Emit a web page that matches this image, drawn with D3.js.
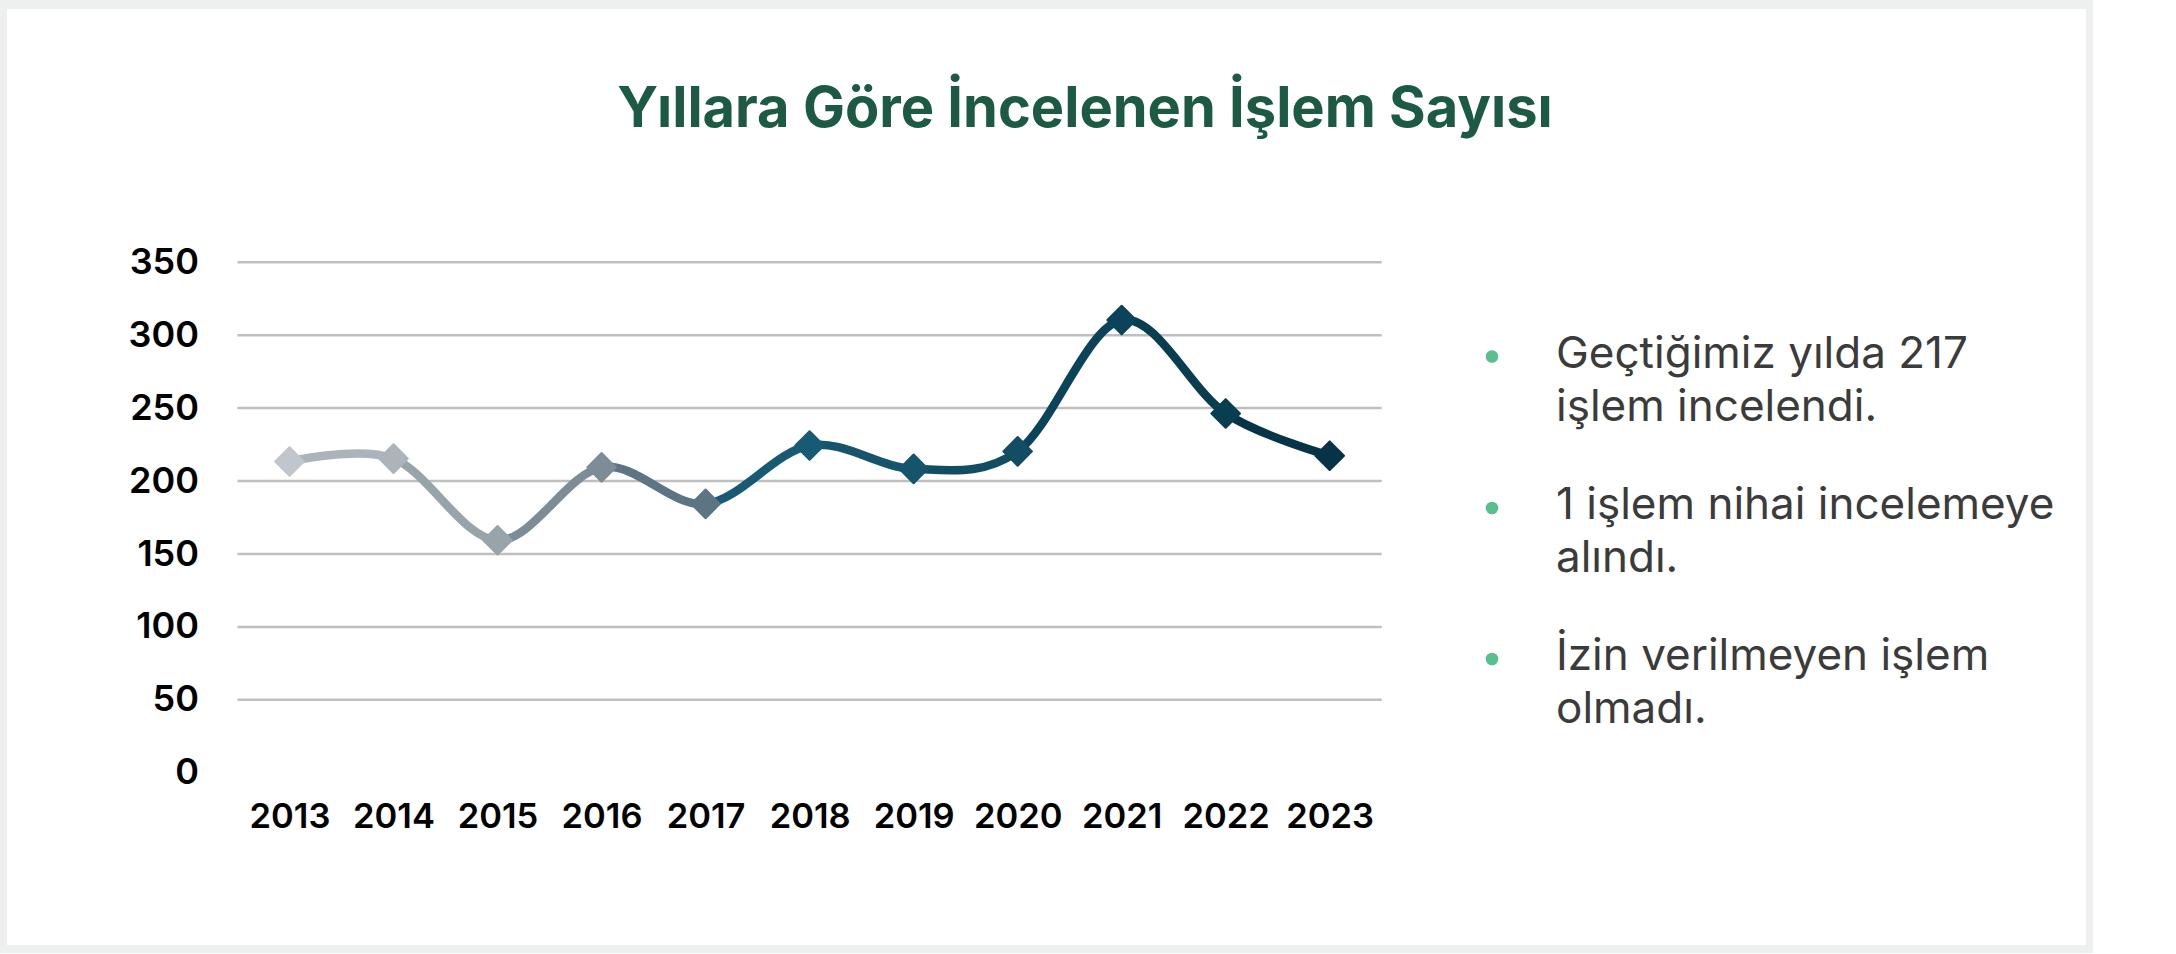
<!DOCTYPE html>
<html>
<head>
<meta charset="utf-8">
<script src="https://cdn.jsdelivr.net/npm/d3@7/dist/d3.min.js"></script>
<style>
  html, body { margin: 0; padding: 0; background: #ffffff; }
  svg { display: block; }
</style>
</head>
<body>
<svg id="chart" width="2176" height="954"></svg>
<script>
// ---- data ----
const years = ["2013","2014","2015","2016","2017","2018","2019","2020","2021","2022","2023"];
const counts = [213, 215, 159, 209, 184, 224, 208, 220, 310, 246, 217];
const yTicks = [0, 50, 100, 150, 200, 250, 300, 350];
const pointColors = ["#c0c6cb","#aab4ba","#97a5ab","#7c8d98","#5d7484","#175a73","#15546b","#124d63","#0b435a","#093e51","#063446"];
const title = "Yıllara Göre İncelenen İşlem Sayısı";
const notes = [
  ["Geçtiğimiz yılda 217", "işlem incelendi."],
  ["1 işlem nihai incelemeye", "alındı."],
  ["İzin verilmeyen işlem", "olmadı."]
];

const svg = d3.select("#chart");

// frame
svg.append("rect").attr("x", 0).attr("y", 0).attr("width", 2093).attr("height", 953).attr("fill", "#eef0ef");
svg.append("rect").attr("x", 7).attr("y", 9).attr("width", 2079).attr("height", 936).attr("fill", "#ffffff");

// title
svg.append("text")
  .attr("x", 1085).attr("y", 126.5)
  .attr("text-anchor", "middle")
  .attr("font-family", "Inter, 'Noto Sans', sans-serif")
  .attr("font-weight", 700)
  .attr("font-size", 56)
  .attr("fill", "#1c5a43")
  .text(title);

// scales
const x = d3.scalePoint().domain(years).range([237.5, 1381.7]).padding(0.5);
const y = d3.scaleLinear().domain([0, 350]).range([772.3, 261.7]);

// gridlines
const grid = svg.append("g").attr("transform", "translate(237.5,0)")
  .call(d3.axisLeft(y).tickValues(yTicks.filter(v => v > 0)).tickSize(-(1381.7 - 237.5)).tickFormat(""));
grid.select(".domain").remove();
grid.selectAll(".tick line").attr("stroke", "#bfbfbf").attr("stroke-width", 2.5);

// y axis labels
const yAxis = svg.append("g").attr("transform", "translate(199,0)")
  .call(d3.axisLeft(y).tickValues(yTicks).tickSize(0).tickPadding(0));
yAxis.select(".domain").remove();
yAxis.selectAll(".tick text")
  .attr("font-family", "Inter, 'Noto Sans', sans-serif")
  .attr("font-weight", 600)
  .attr("font-size", 36)
  .attr("fill", "#000000");

// x axis labels
const xAxis = svg.append("g").attr("transform", "translate(0,790)")
  .call(d3.axisBottom(x).tickSize(0).tickPadding(0));
xAxis.select(".domain").remove();
xAxis.selectAll(".tick text")
  .attr("dy", null)
  .attr("y", 38)
  .attr("font-family", "Inter, 'Noto Sans', sans-serif")
  .attr("font-weight", 600)
  .attr("font-size", 34.5)
  .attr("fill", "#000000");

// gradient with hard stops: segment colour = colour of its end point
const x0 = x(years[0]), x1 = x(years[years.length - 1]);
const grad = svg.append("defs").append("linearGradient")
  .attr("id", "segGrad").attr("gradientUnits", "userSpaceOnUse")
  .attr("x1", x0).attr("x2", x1).attr("y1", 0).attr("y2", 0);
for (let i = 1; i < years.length; i++) {
  const a = (x(years[i - 1]) - x0) / (x1 - x0);
  const b = (x(years[i]) - x0) / (x1 - x0);
  grad.append("stop").attr("offset", a).attr("stop-color", pointColors[i]);
  grad.append("stop").attr("offset", b).attr("stop-color", pointColors[i]);
}

const data = years.map((yr, i) => ({ yr, v: counts[i], c: pointColors[i] }));

const line = d3.line()
  .x(d => x(d.yr))
  .y(d => y(d.v))
  .curve(d3.curveCardinal.tension(0));

svg.append("path")
  .datum(data)
  .attr("d", line)
  .attr("fill", "none")
  .attr("stroke", "url(#segGrad)")
  .attr("stroke-width", 8.5)
  .attr("stroke-linecap", "round")
  .attr("stroke-linejoin", "round");

// diamond markers
const sq = d3.symbol().type(d3.symbolSquare).size(410);
svg.append("g").selectAll("path")
  .data(data)
  .join("path")
  .attr("d", sq)
  .attr("transform", d => `translate(${x(d.yr)},${y(d.v)}) rotate(45)`)
  .attr("fill", d => d.c)
  .attr("stroke", d => d.c)
  .attr("stroke-width", 2)
  .attr("stroke-linejoin", "round");

// notes
const notesG = svg.append("g");
const paraStart = [367.5, 519, 670];
const lineGap = 53;
notes.forEach((lines, i) => {
  notesG.append("circle")
    .attr("cx", 1492).attr("cy", paraStart[i] - 11).attr("r", 6.3)
    .attr("fill", "#58bf8e");
  lines.forEach((t, j) => {
    notesG.append("text")
      .attr("x", 1556).attr("y", paraStart[i] + j * lineGap)
      .attr("font-family", "Inter, 'Noto Sans', sans-serif")
      .attr("font-weight", 400)
      .attr("font-size", 44)
      .attr("fill", "#3b3b3b")
      .text(t);
  });
});
</script>
</body>
</html>
